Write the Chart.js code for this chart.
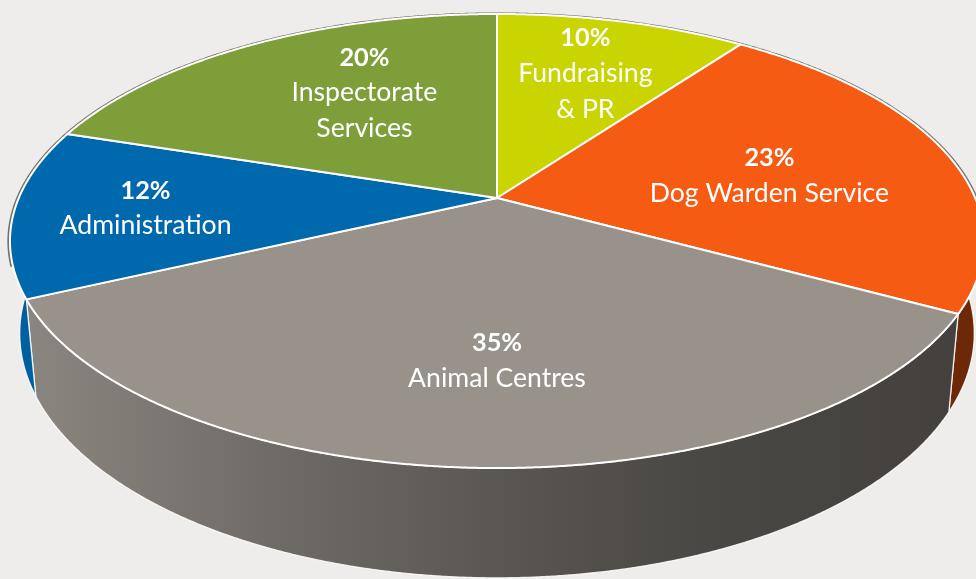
<!DOCTYPE html>
<html><head><meta charset="utf-8">
<script src="https://cdn.jsdelivr.net/npm/chart.js@4.4.1/dist/chart.umd.min.js"></script>
<style>html,body{margin:0;padding:0;background:#EEEDEB;overflow:hidden}#wrap{width:976px;height:579px}</style>
</head><body><div id="wrap"><canvas id="c" width="976" height="579"></canvas></div>
<script>
// ---- data ----
const categories = [['Fundraising', '& PR'], ['Dog Warden Service'], ['Animal Centres'], ['Administration'], ['Inspectorate', 'Services']];
const shares = [10, 23, 35, 12, 20];

// ---- styles ----
const sliceColors = ['#C9D400', '#F55B12', '#98928B', '#0068AD', '#7E9E3A'];
// label placement: [radius fraction, angle nudge in degrees] on the flat disc
const labelPlace = [[0.67, 0], [0.59, 2.5], [0.65, -1.8], [0.73, 0], [0.61, 6]];

// perspective of the disc (top face) and extrusion
const P = { cx: 497, cy: 198, A: 478.2, B: 218.9, k: 0.1894, depth: 89, sx: 0.98 };
function topPt(a, r) {
  r = r === undefined ? 1 : r;
  const u = r * Math.cos(a), v = r * Math.sin(a), w = 1 - P.k * v;
  return [P.cx + P.A * u / w, P.cy + P.B * v / w];
}
function botPt(a) {
  const u = Math.cos(a), v = Math.sin(a), w = 1 - P.k * v;
  const x = P.cx + P.A * u / w, y = P.cy + P.B * v / w;
  return [P.cx + (x - P.cx) * P.sx, y + P.depth / w];
}
function hexRgb(h) { const n = parseInt(h.slice(1), 16); return [(n >> 16) & 255, (n >> 8) & 255, n & 255]; }
function shade(h, f) { const c = hexRgb(h); return 'rgb(' + c.map(x => Math.round(x * f)).join(',') + ')'; }

const STEP = Math.PI / 720;
const perspectivePie = {
  id: 'perspectivePie',
  beforeDatasetsDraw(chart) {
    const ctx = chart.ctx;
    const meta = chart.getDatasetMeta(0);
    const els = meta.data;
    ctx.save();
    ctx.lineJoin = 'round';
    // side walls (front half only)
    const lo = -0.15, hi = Math.PI + 0.15;
    els.forEach((el, i) => {
      const a0 = Math.max(el.startAngle, lo), a1 = Math.min(el.endAngle, hi);
      if (a1 <= a0) return;
      const g = ctx.createLinearGradient(20, 0, 976, 0);
      const col = sliceColors[i];
      g.addColorStop(0, shade(col, 0.92));
      g.addColorStop(0.293, shade(col, 0.71));
      g.addColorStop(0.502, shade(col, 0.59));
      g.addColorStop(0.711, shade(col, 0.49));
      g.addColorStop(1, shade(col, 0.44));
      ctx.beginPath();
      for (let a = a0; a < a1; a += STEP) { const p = topPt(a); ctx.lineTo(p[0], p[1]); }
      let p = topPt(a1); ctx.lineTo(p[0], p[1]);
      for (let a = a1; a > a0; a -= STEP) { const q = botPt(a); ctx.lineTo(q[0], q[1]); }
      p = botPt(a0); ctx.lineTo(p[0], p[1]);
      ctx.closePath();
      ctx.fillStyle = g;
      ctx.fill();
      ctx.strokeStyle = 'rgba(255,255,255,0.85)';
      ctx.lineWidth = 1.3;
      ctx.stroke();
    });
    // thin dark outline around the back rim
    ctx.beginPath();
    for (let a = Math.PI - 0.3; a <= 2 * Math.PI + 0.3; a += STEP) { const p = topPt(a, 1.003); ctx.lineTo(p[0], p[1]); }
    ctx.strokeStyle = 'rgba(90,90,90,0.85)';
    ctx.lineWidth = 2.2;
    ctx.stroke();
    // top faces
    els.forEach((el, i) => {
      ctx.beginPath();
      ctx.moveTo(P.cx, P.cy);
      for (let a = el.startAngle; a < el.endAngle; a += STEP) { const p = topPt(a); ctx.lineTo(p[0], p[1]); }
      const p = topPt(el.endAngle); ctx.lineTo(p[0], p[1]);
      ctx.closePath();
      ctx.fillStyle = el.options.backgroundColor;
      ctx.fill();
      ctx.strokeStyle = '#FFFFFF';
      ctx.lineWidth = 2;
      ctx.stroke();
    });
    ctx.restore();
    return false;
  },
  afterDraw(chart) {
    const ctx = chart.ctx;
    const meta = chart.getDatasetMeta(0);
    const total = shares.reduce((s, v) => s + v, 0);
    const fam = 'Lato, "Open Sans", sans-serif';
    ctx.save();
    ctx.font = '100px ' + fam;
    const regSize = 100 * 239 / ctx.measureText('Dog Warden Service').width;
    ctx.font = 'bold 100px ' + fam;
    const boldSize = 100 * 50 / ctx.measureText('23%').width;
    ctx.fillStyle = '#FFFFFF';
    ctx.textAlign = 'center';
    ctx.textBaseline = 'middle';
    const lh = 35.5;
    meta.data.forEach((el, i) => {
      const mid = (el.startAngle + el.endAngle) / 2 + labelPlace[i][1] * Math.PI / 180;
      const c = topPt(mid, labelPlace[i][0]);
      const lines = [Math.round(shares[i] / total * 100) + '%'].concat(chart.data.labels[i]);
      const y0 = c[1] - (lines.length - 1) * lh / 2;
      lines.forEach((t, j) => {
        ctx.font = (j === 0 ? 'bold ' + boldSize.toFixed(1) : regSize.toFixed(1)) + 'px ' + fam;
        ctx.fillText(t, c[0], y0 + j * lh);
      });
    });
    ctx.restore();
  }
};

new Chart(document.getElementById('c'), {
  type: 'pie',
  data: {
    labels: categories,
    datasets: [{ data: shares, backgroundColor: sliceColors, borderColor: '#FFFFFF', borderWidth: 2 }]
  },
  options: {
    responsive: false,
    animation: false,
    events: [],
    plugins: { legend: { display: false }, tooltip: { enabled: false } }
  },
  plugins: [perspectivePie]
});
</script>
</body></html>
